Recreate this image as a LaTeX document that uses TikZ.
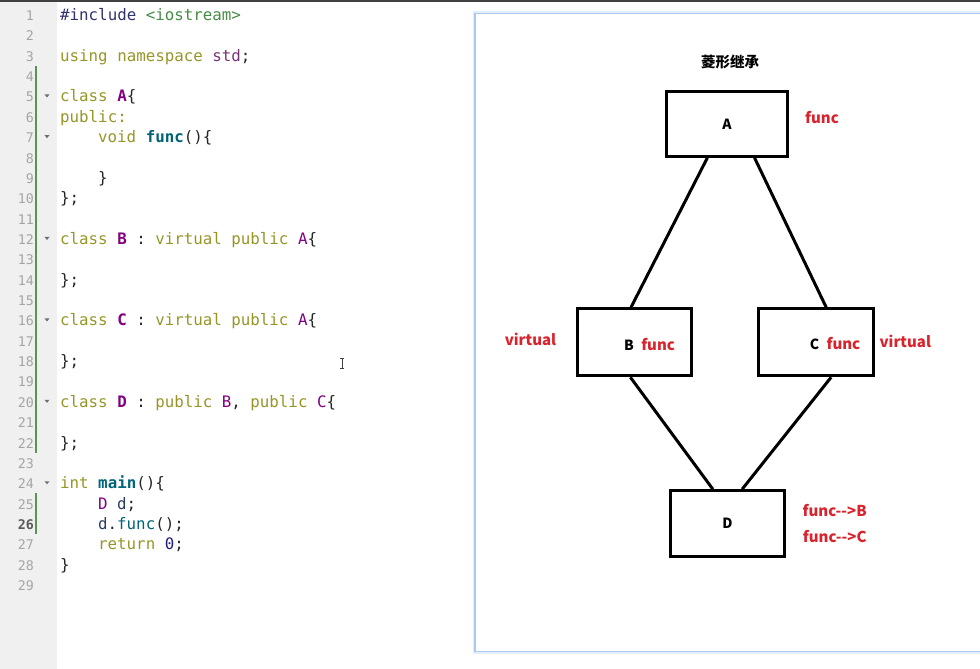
\documentclass[tikz,border=0pt]{standalone}
\usepackage{fontspec}
\usepackage{xcolor}
\usetikzlibrary{positioning}
\newfontfamily\codefont{DejaVu Sans Mono}
\newfontfamily\cjk{Noto Sans CJK SC}

\definecolor{guttergray}{RGB}{240,240,240}
\definecolor{numgray}{RGB}{165,165,165}
\definecolor{numdark}{RGB}{90,90,90}
\definecolor{changegreen}{RGB}{85,150,85}
\definecolor{foldgray}{RGB}{110,110,110}
\definecolor{topbar}{RGB}{65,65,65}
\definecolor{kwolive}{RGB}{150,150,40}
\definecolor{prepnavy}{RGB}{50,50,110}
\definecolor{inclgreen}{RGB}{70,140,70}
\definecolor{nspurple}{RGB}{120,50,120}
\definecolor{clspurple}{RGB}{130,0,130}
\definecolor{fnteal}{RGB}{0,100,120}
\definecolor{varnavy}{RGB}{40,60,100}
\definecolor{numnavy}{RGB}{30,30,120}
\definecolor{panelblue}{RGB}{170,200,240}
\definecolor{panelglow}{RGB}{228,237,250}
\definecolor{diagred}{RGB}{218,36,45}

\newcommand{\rowy}[1]{{20.5+20.36*(#1-1)}}
\newcommand{\kwd}[1]{\textcolor{kwolive}{#1}}
\newcommand{\tdef}[1]{\textcolor{clspurple}{\bfseries #1}}
\newcommand{\tuse}[1]{\textcolor{clspurple}{#1}}
\newcommand{\fdef}[1]{\textcolor{fnteal}{\bfseries #1}}
\newcommand{\fuse}[1]{\textcolor{fnteal}{#1}}
\newcommand{\vname}[1]{\textcolor{varnavy}{#1}}

\begin{document}
\begin{tikzpicture}[x=1pt, y=-1pt,
        codeline/.style={anchor=base west, inner sep=0pt, text=black!85,
            font=\codefont\fontsize{15.8}{19}\selectfont},
        lineno/.style={anchor=base east, inner sep=0pt, text=numgray,
            font=\codefont\fontsize{13.3}{16}\selectfont},
        classbox/.style={draw, rectangle, line width=3pt, inner sep=0pt,
            font=\cjk\bfseries\fontsize{14}{16}\selectfont},
        boxname/.style={inner sep=0pt, font=\cjk\bfseries\fontsize{14}{16}\selectfont},
        redlbl/.style={inner sep=0pt, text=diagred,
            font=\cjk\bfseries\fontsize{15}{17}\selectfont},
        edge line/.style={line width=3pt}]

    \useasboundingbox (0,0) rectangle (980,669);
    \fill[white] (0,0) rectangle (980,669);

    % editor gutter
    \fill[guttergray] (0,0) rectangle (57,669);
    \fill[topbar] (0,0) rectangle (980,2.5);
    \draw[changegreen, line width=2pt] (35.5,{20.5+20.36*3-15.7}) -- (35.5,{20.5+20.36*21+4.5});
    \draw[changegreen, line width=2pt] (35.5,{20.5+20.36*24-15.7}) -- (35.5,{20.5+20.36*25+4.5});

    \foreach \n in {1,...,25,27,28,29}
        \node[lineno] (n\n) at (34,\rowy{\n}) {\n};
    \node[lineno, text=numdark, font=\codefont\bfseries\fontsize{13.3}{16}\selectfont] (n26) at (34,\rowy{26}) {26};

    \foreach \n in {5,7,12,16,20,24}
        \fill[foldgray] (44.5,{20.5+20.36*(\n-1)-7.5}) -- ++(5,0) -- ++(-2.5,3) -- cycle;

    % code
    \node[codeline] (l1) at (60,\rowy{1}) {\textcolor{prepnavy}{\#include} \textcolor{inclgreen}{<iostream>}};
    \node[codeline] (l3) at (60,\rowy{3}) {\kwd{using namespace} \textcolor{nspurple}{std};};
    \node[codeline] (l5) at (60,\rowy{5}) {\kwd{class} \tdef{A}\{};
    \node[codeline] (l6) at (60,\rowy{6}) {\kwd{public:}};
    \node[codeline] (l7) at (98,\rowy{7}) {\kwd{void} \fdef{func}()\{};
    \node[codeline] (l9) at (98,\rowy{9}) {\}};
    \node[codeline] (l10) at (60,\rowy{10}) {\};};
    \node[codeline] (l12) at (60,\rowy{12}) {\kwd{class} \tdef{B} : \kwd{virtual public} \tuse{A}\{};
    \node[codeline] (l14) at (60,\rowy{14}) {\};};
    \node[codeline] (l16) at (60,\rowy{16}) {\kwd{class} \tdef{C} : \kwd{virtual public} \tuse{A}\{};
    \node[codeline] (l18) at (60,\rowy{18}) {\};};
    \node[codeline] (l20) at (60,\rowy{20}) {\kwd{class} \tdef{D} : \kwd{public} \tuse{B}, \kwd{public} \tuse{C}\{};
    \node[codeline] (l22) at (60,\rowy{22}) {\};};
    \node[codeline] (l24) at (60,\rowy{24}) {\kwd{int} \fdef{main}()\{};
    \node[codeline] (l25) at (98,\rowy{25}) {\tuse{D} \vname{d};};
    \node[codeline] (l26) at (98,\rowy{26}) {\vname{d}.\fuse{func}();};
    \node[codeline] (l27) at (98,\rowy{27}) {\kwd{return} \textcolor{numnavy}{0};};
    \node[codeline] (l28) at (60,\rowy{28}) {\}};

    % text cursor
    \draw[black!75, line width=0.8pt] (342,358) -- (342,368) (340,358) -- (344,358) (340,368) -- (344,368);

    % drawing panel
    \draw[panelglow, line width=4pt] (475,13.5) rectangle (990,651.5);
    \draw[panelblue, line width=1.2pt, fill=white] (475,13.5) rectangle (990,651.5);

    \node[inner sep=0pt, font=\cjk\bfseries\fontsize{14.5}{16}\selectfont] (title) at (730,62) {菱形继承};

    \node[classbox, minimum width=121pt, minimum height=65pt] (A) at (727,123.8) {A};
    \node[classbox, minimum width=114pt, minimum height=67pt] (B) at (634.7,342.3) {};
    \node[classbox, minimum width=115pt, minimum height=67pt] (C) at (815.5,342.3) {};
    \node[classbox, minimum width=114pt, minimum height=66pt] (D) at (727.5,523.7) {D};

    \node[boxname] (Bname) at (629,345) {B};
    \node[redlbl, right=7pt of Bname] (Bfunc) {func};
    \node[boxname] (Cname) at (814.5,344) {C};
    \node[redlbl, right=7pt of Cname] (Cfunc) {func};

    \node[redlbl] (Afunc) at (822,118) {func};
    \node[redlbl] (Bvirt) at (530.5,339.3) {virtual};
    \node[redlbl] (Cvirt) at (905.3,341.7) {virtual};
    \node[redlbl] (DfuncB) at (834.7,510.7) {func-{}->B};
    \node[redlbl] (DfuncC) at (834.7,536.7) {func-{}->C};

    \draw[edge line] (A.-120) -- (B.96);
    \draw[edge line] (A.-51) -- (C.73);
    \draw[edge line] (B.-97) -- (D.113);
    \draw[edge line] (C.-66) -- (D.67);

\end{tikzpicture}
\end{document}
